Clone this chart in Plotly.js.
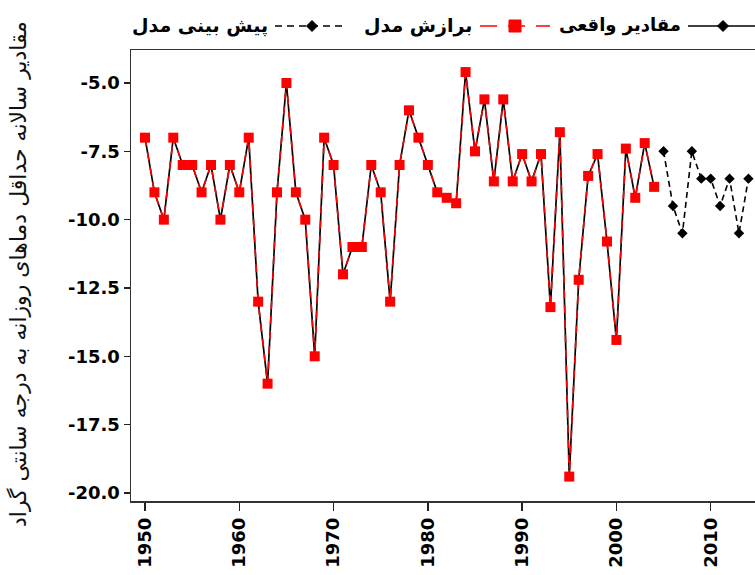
<!DOCTYPE html>
<html>
<head>
<meta charset="utf-8">
<script src="https://cdn.plot.ly/plotly-3.0.1.min.js"></script>
<style>
html,body{margin:0;padding:0;overflow:hidden;background:#fff;}
#chart{width:800px;height:575px;}
</style>
</head>
<body>
<div id="chart"></div>
<script>
// ---- data ----
const actualYears = [1950,1951,1952,1953,1954,1955,1956,1957,1958,1959,1960,1961,1962,1963,1964,1965,1966,1967,1968,1969,
  1970,1971,1972,1973,1974,1975,1976,1977,1978,1979,1980,1981,1982,1983,1984,1985,1986,1987,1988,1989,
  1990,1991,1992,1993,1994,1995,1996,1997,1998,1999,2000,2001,2002,2003,2004];
const actualValues = [-7.0,-9.0,-10.0,-7.0,-8.0,-8.0,-9.0,-8.0,-10.0,-8.0,-9.0,-7.0,-13.0,-16.0,-9.0,-5.0,-9.0,-10.0,-15.0,-7.0,
  -8.0,-12.0,-11.0,-11.0,-8.0,-9.0,-13.0,-8.0,-6.0,-7.0,-8.0,-9.0,-9.2,-9.4,-4.6,-7.5,-5.6,-8.6,-5.6,-8.6,
  -7.6,-8.6,-7.6,-13.2,-6.8,-19.4,-12.2,-8.4,-7.6,-10.8,-14.4,-7.4,-9.2,-7.2,-8.8];
const fittedYears = actualYears;
const fittedValues = [-7.0,-9.0,-10.0,-7.0,-8.0,-8.0,-9.0,-8.0,-10.0,-8.0,-9.0,-7.0,-13.0,-16.0,-9.0,-5.0,-9.0,-10.0,-15.0,-7.0,
  -8.0,-12.0,-11.0,-11.0,-8.0,-9.0,-13.0,-8.0,-6.0,-7.0,-8.0,-9.0,-9.2,-9.4,-4.6,-7.5,-5.6,-8.6,-5.6,-8.6,
  -7.6,-8.6,-7.6,-13.2,-6.8,-19.4,-12.2,-8.4,-7.6,-10.8,-14.4,-7.4,-9.2,-7.2,-8.8];
const forecastYears = [2005,2006,2007,2008,2009,2010,2011,2012,2013,2014];
const forecastValues = [-7.5,-9.5,-10.5,-7.5,-8.5,-8.5,-9.5,-8.5,-10.5,-8.5];
const xTickVals = [1950,1960,1970,1980,1990,2000,2010];
const yTickVals = [-5,-7.5,-10,-12.5,-15,-17.5,-20];
const yTickText = ['-5.0','-7.5','-10.0','-12.5','-15.0','-17.5','-20.0'];
const seriesNames = ['مقادیر واقعی','برازش مدل','پیش بینی مدل'];
const yTitle = 'مقادیر سالانه حداقل دماهای روزانه به درجه سانتی گراد';

// ---- geometry ----
const W = 800, H = 575;
const M = {l:131, r:35, t:50, b:74};
const PW = W - M.l - M.r, PH = H - M.t - M.b;
const px = x => (x - M.l) / PW;
const py = y => (H - M.b - y) / PH;

const FONT = 'DejaVu Sans, Verdana, sans-serif';

const traces = [
  {x: actualYears, y: actualValues, type:'scatter', mode:'lines+markers', name: seriesNames[0],
   line:{color:'#000', width:1.7}, marker:{symbol:'diamond', size:7, color:'#000'}},
  {x: fittedYears, y: fittedValues, type:'scatter', mode:'lines+markers', name: seriesNames[1],
   line:{color:'#ff0000', width:1.6, dash:'8px,7px'}, marker:{symbol:'square', size:10, color:'#ff0000'}},
  {x: forecastYears, y: forecastValues, type:'scatter', mode:'lines+markers', name: seriesNames[2],
   line:{color:'#000', width:1.6, dash:'6px,4px'}, marker:{symbol:'diamond', size:8, color:'#000'}}
];

// legend drawn manually (RTL: symbol to the right of text)
const LY = 26;
const legFont = s => ({family: FONT, size: s, color:'#000', weight:'bold'});
const shapes = [
  {type:'line', xref:'paper', yref:'paper', x0:px(275), x1:px(345), y0:py(LY), y1:py(LY),
   line:{color:'#000', width:1.6, dash:'7px,5px'}},
  {type:'path', xref:'paper', yref:'paper', xsizemode:'pixel', ysizemode:'pixel', xanchor:px(312), yanchor:py(LY),
   path:'M0,5.5 L5.5,0 L0,-5.5 L-5.5,0 Z', fillcolor:'#000', line:{color:'#000', width:1}},
  {type:'line', xref:'paper', yref:'paper', x0:px(480), x1:px(550), y0:py(LY), y1:py(LY),
   line:{color:'#ff0000', width:1.6, dash:'17px,11px'}},
  {type:'path', xref:'paper', yref:'paper', xsizemode:'pixel', ysizemode:'pixel', xanchor:px(515), yanchor:py(LY),
   path:'M-6,-6 L6,-6 L6,6 L-6,6 Z', fillcolor:'#ff0000', line:{color:'#ff0000', width:1}},
  {type:'line', xref:'paper', yref:'paper', x0:px(688), x1:px(770), y0:py(LY), y1:py(LY),
   line:{color:'#000', width:1.6}},
  {type:'path', xref:'paper', yref:'paper', xsizemode:'pixel', ysizemode:'pixel', xanchor:px(723), yanchor:py(LY),
   path:'M0,5.5 L5.5,0 L0,-5.5 L-5.5,0 Z', fillcolor:'#000', line:{color:'#000', width:1}}
];
const annotations = [
  {text: seriesNames[2], xref:'paper', yref:'paper', x:px(270), y:py(LY-1), xanchor:'right', yanchor:'middle', showarrow:false, font:legFont(19)},
  {text: seriesNames[1], xref:'paper', yref:'paper', x:px(474), y:py(LY-1), xanchor:'right', yanchor:'middle', showarrow:false, font:legFont(19)},
  {text: seriesNames[0], xref:'paper', yref:'paper', x:px(683), y:py(LY-1), xanchor:'right', yanchor:'middle', showarrow:false, font:legFont(18)},
  {text: yTitle, xref:'paper', yref:'paper', x:px(18), y:py(274), xanchor:'center', yanchor:'middle', textangle:-90,
   showarrow:false, font:{family: FONT, size:22, color:'#111'}}
];

const layout = {
  width: W, height: H,
  margin: M,
  paper_bgcolor:'#fff', plot_bgcolor:'#fff',
  showlegend:false,
  xaxis:{range:[1948.515, 2015.76], tickvals:xTickVals, tickangle:-90, ticks:'outside', ticklen:8, tickwidth:1.5, tickcolor:'#222',
    showgrid:false, zeroline:false, showline:true, mirror:true, linecolor:'#333', linewidth:1.5,
    tickfont:{family:FONT, size:18, color:'#000', weight:'bold'}},
  yaxis:{range:[-20.293, -3.793], tickvals:yTickVals, ticktext:yTickText, ticks:'outside', ticklen:6, tickwidth:1.5, tickcolor:'#222',
    showgrid:false, zeroline:false, showline:true, mirror:true, linecolor:'#333', linewidth:1.5,
    tickfont:{family:FONT, size:18, color:'#000', weight:'bold'}},
  shapes: shapes,
  annotations: annotations
};

Plotly.newPlot('chart', traces, layout, {staticPlot:true, displayModeBar:false});
</script>
</body>
</html>
